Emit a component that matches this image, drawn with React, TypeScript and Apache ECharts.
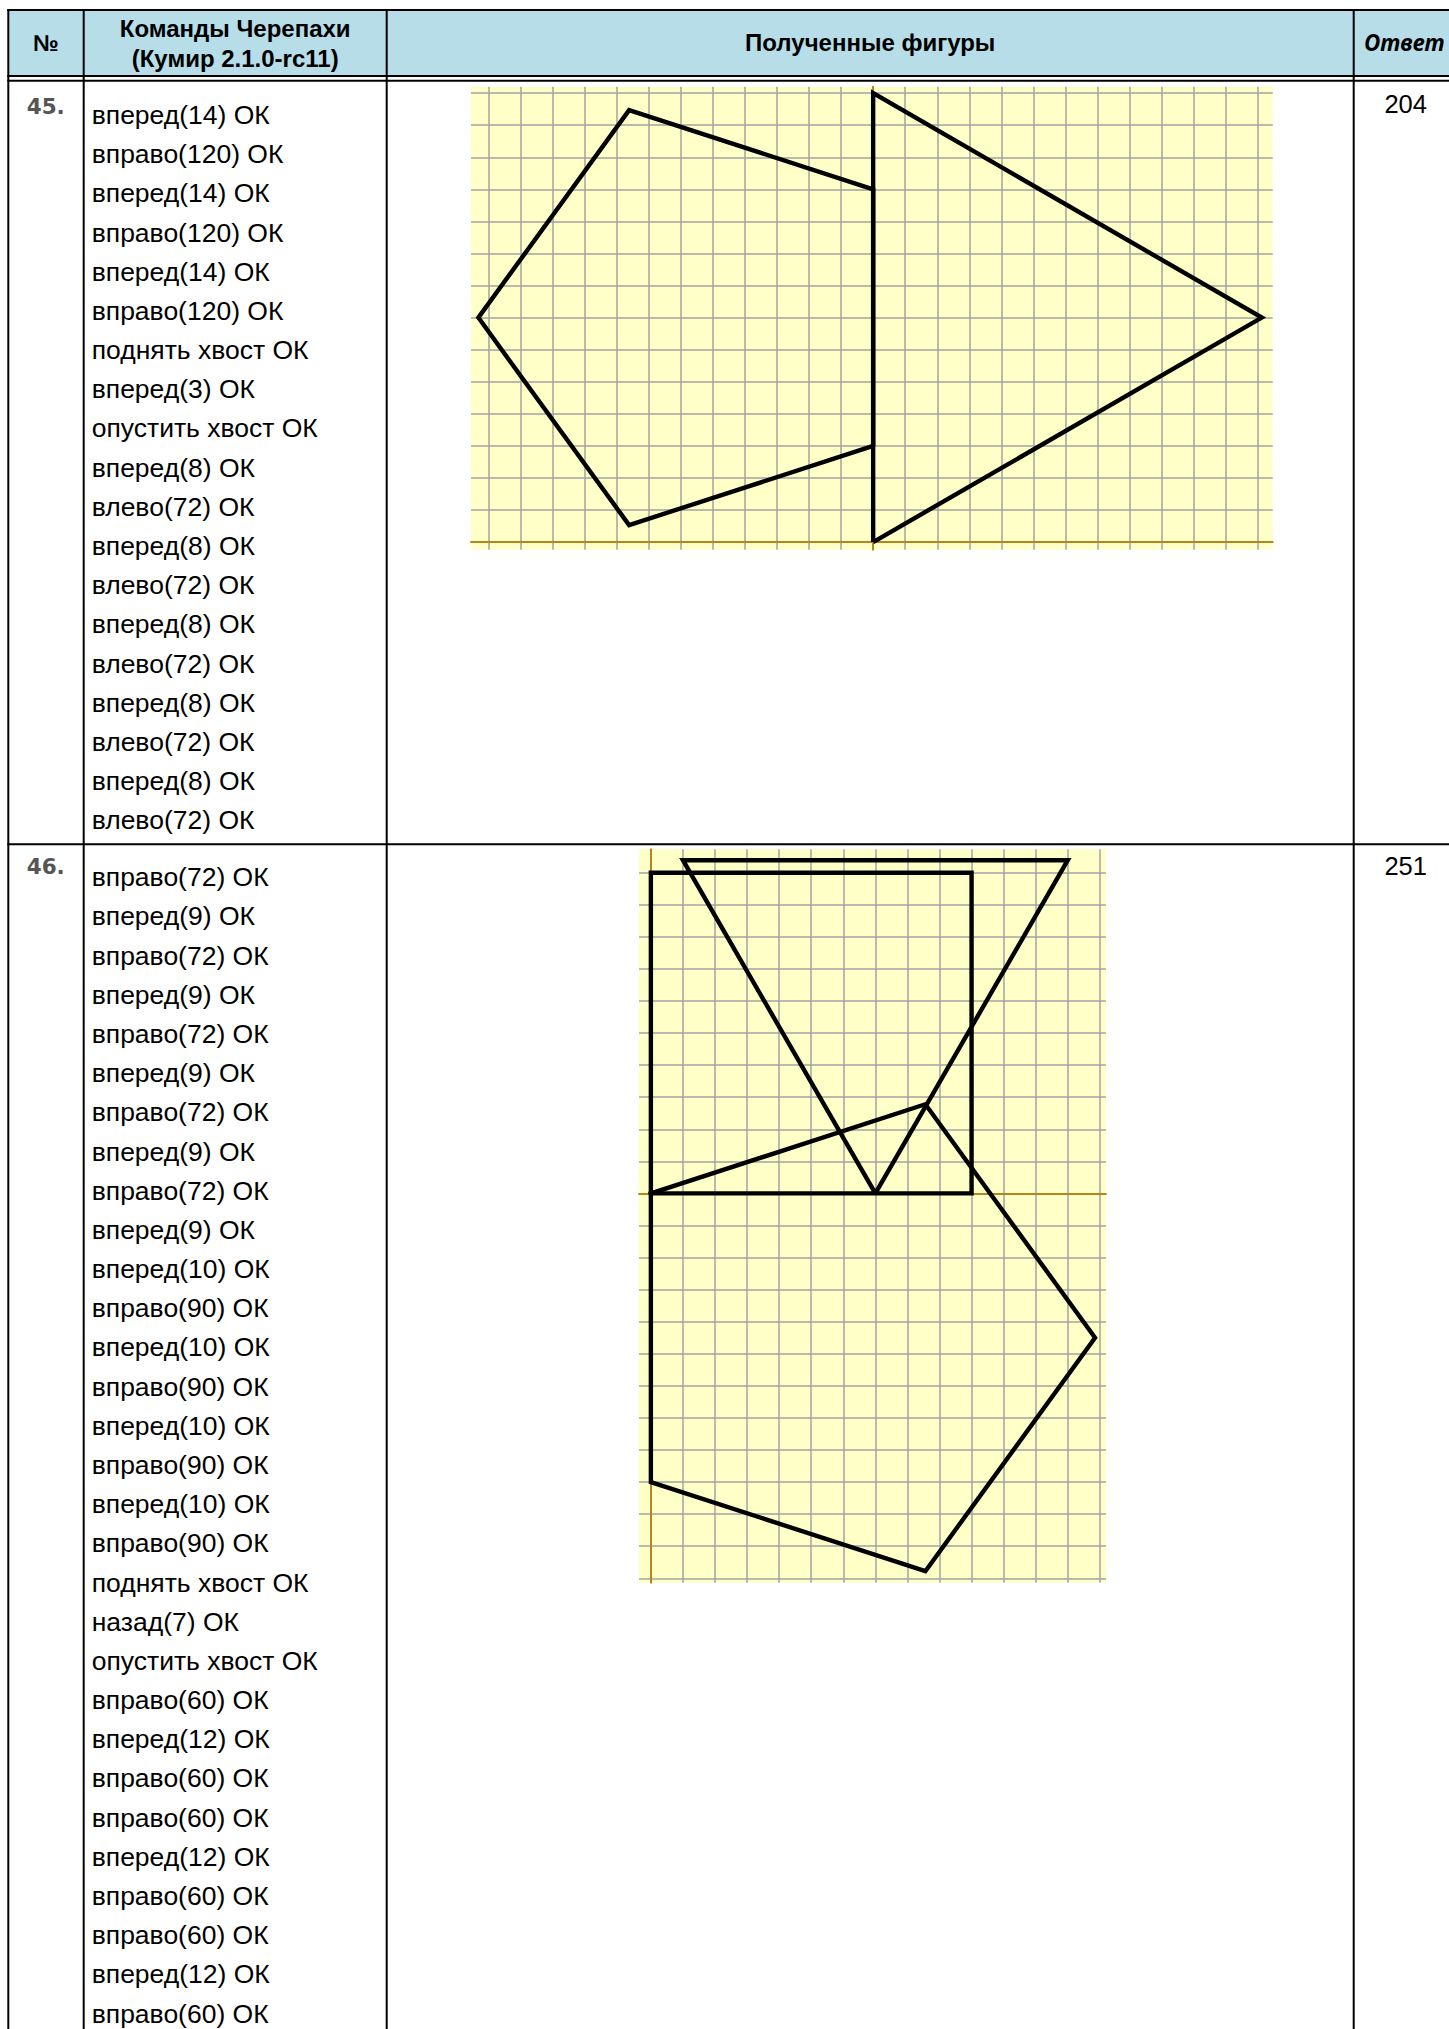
import React, { useEffect, useRef } from 'react';
import * as echarts from 'echarts';

// ---------- table texts ----------
const headerNo = '№';
const headerCommands = ['Команды Черепахи', '(Кумир 2.1.0-rc11)'];
const headerFigures = 'Полученные фигуры';
const headerAnswer = 'Ответ';

const taskNumbers = ['45.', '46.'];
const answers = ['204', '251'];

const commands45 = [
  'вперед(14) ОК', 'вправо(120) ОК', 'вперед(14) ОК', 'вправо(120) ОК',
  'вперед(14) ОК', 'вправо(120) ОК', 'поднять хвост ОК', 'вперед(3) ОК',
  'опустить хвост ОК', 'вперед(8) ОК', 'влево(72) ОК', 'вперед(8) ОК',
  'влево(72) ОК', 'вперед(8) ОК', 'влево(72) ОК', 'вперед(8) ОК',
  'влево(72) ОК', 'вперед(8) ОК', 'влево(72) ОК',
];

const commands46 = [
  'вправо(72) ОК', 'вперед(9) ОК', 'вправо(72) ОК', 'вперед(9) ОК',
  'вправо(72) ОК', 'вперед(9) ОК', 'вправо(72) ОК', 'вперед(9) ОК',
  'вправо(72) ОК', 'вперед(9) ОК', 'вперед(10) ОК', 'вправо(90) ОК',
  'вперед(10) ОК', 'вправо(90) ОК', 'вперед(10) ОК', 'вправо(90) ОК',
  'вперед(10) ОК', 'вправо(90) ОК', 'поднять хвост ОК', 'назад(7) ОК',
  'опустить хвост ОК', 'вправо(60) ОК', 'вперед(12) ОК', 'вправо(60) ОК',
  'вправо(60) ОК', 'вперед(12) ОК', 'вправо(60) ОК', 'вправо(60) ОК',
  'вперед(12) ОК', 'вправо(60) ОК',
];

// ---------- figure data (turtle units) ----------
const fig45Triangle = [[0, 0], [0, 14], [12.12, 7], [0, 0]];
const fig45Pentagon = [[0, 3], [0, 11], [-7.61, 13.47], [-12.31, 7], [-7.61, 0.53], [0, 3]];
const fig45XRange = [-12.54, 12.46];
const fig45YRange = [-0.24, 14.2];

const fig46Pentagon = [[0, 0], [8.56, 2.78], [13.85, -4.5], [8.56, -11.78], [0, -9], [0, 0]];
const fig46Square = [[0, 0], [0, 10], [10, 10], [10, 0], [0, 0]];
const fig46Triangle = [[7, 0], [13, 10.39], [1, 10.39], [7, 0]];
const fig46XRange = [-0.37, 14.19];
const fig46YRange = [-12.14, 10.73];

// ---------- layout / style ----------
const UNIT = 32.07;
const FIG45_POS = { left: 471, top: 86.7 };
const FIG46_POS = { left: 639, top: 849.3 };

const COL_X = [8.3, 83.7, 386.7, 1353.7];
const TABLE_RIGHT = 1470;
const TOP_Y = 10;
const HEADER_LINES_Y = [76, 80.7];
const ROW46_Y = 844.3;

const SANS = '"Liberation Sans", Arial, sans-serif';
const YELLOW = '#ffffc8';
const GRID_GRAY = '#a3a3a3';
const AXIS_BROWN = '#b5861e';
const HEADER_BLUE = '#b6dde8';

const TEXT_X = 91.7;
const LINE_STEP = 39.18;
const ROW45_FIRST = 115;
const ROW46_FIRST = 877.3;

function makeAxes(gridIndex: number, range: number[]) {
  const span = range[1] - range[0];
  const base = {
    type: 'value',
    gridIndex,
    min: range[0],
    max: range[1],
    splitNumber: Math.round(span),
    minInterval: 1,
    maxInterval: 1,
    axisTick: { show: false },
    axisLabel: { show: false },
  };
  const gridLines = {
    ...base,
    z: 0,
    axisLine: { show: false, onZero: false },
    splitLine: {
      show: true,
      showMinLine: false,
      showMaxLine: false,
      lineStyle: { color: GRID_GRAY, width: 1.5 },
    },
  };
  const axisLine = {
    ...base,
    z: 1,
    axisLine: { show: true, onZero: true, lineStyle: { color: AXIS_BROWN, width: 2 } },
    splitLine: { show: false },
  };
  return [gridLines, axisLine];
}

function shape(data: number[][], axisIndex: number, cap: string) {
  return {
    type: 'line',
    xAxisIndex: axisIndex,
    yAxisIndex: axisIndex,
    data,
    symbol: 'none',
    showSymbol: false,
    silent: true,
    clip: false,
    z: 5,
    lineStyle: { color: '#000', width: 4.4, join: 'miter', cap },
  };
}

function txt(text: string, x: number, y: number, opts: any = {}) {
  return {
    type: 'text',
    x,
    y,
    silent: true,
    style: {
      text,
      fill: opts.fill || '#000',
      fontSize: opts.size || 25,
      fontFamily: opts.family || SANS,
      fontWeight: opts.weight || 'normal',
      fontStyle: opts.style || 'normal',
      align: opts.align || 'left',
      textAlign: opts.align || 'left',
      verticalAlign: 'middle',
      textVerticalAlign: 'middle',
    },
  };
}

function hLine(y: number, x1: number, x2: number, w = 2) {
  return { type: 'line', silent: true, shape: { x1, y1: y, x2, y2: y }, style: { stroke: '#000', lineWidth: w } };
}
function vLine(x: number, y1: number, y2: number, w = 2) {
  return { type: 'line', silent: true, shape: { x1: x, y1, x2: x, y2 }, style: { stroke: '#000', lineWidth: w } };
}

export default function App() {
  const ref = useRef<HTMLDivElement>(null);

  useEffect(() => {
    if (!ref.current) return;
    const chart = echarts.init(ref.current, undefined, { renderer: 'svg' });

    const grid45 = {
      left: FIG45_POS.left,
      top: FIG45_POS.top,
      width: (fig45XRange[1] - fig45XRange[0]) * UNIT,
      height: (fig45YRange[1] - fig45YRange[0]) * UNIT,
      show: true,
      backgroundColor: YELLOW,
      borderWidth: 0,
      containLabel: false,
      outerBoundsMode: 'none',
    };
    const grid46 = {
      left: FIG46_POS.left,
      top: FIG46_POS.top,
      width: (fig46XRange[1] - fig46XRange[0]) * UNIT,
      height: (fig46YRange[1] - fig46YRange[0]) * UNIT,
      show: true,
      backgroundColor: YELLOW,
      borderWidth: 0,
      containLabel: false,
      outerBoundsMode: 'none',
    };

    const xAxis = [...makeAxes(0, fig45XRange), ...makeAxes(1, fig46XRange)];
    const yAxis = [...makeAxes(0, fig45YRange), ...makeAxes(1, fig46YRange)];

    const elements: any[] = [];
    // header background
    elements.push({
      type: 'rect',
      silent: true,
      shape: { x: COL_X[0], y: TOP_Y, width: TABLE_RIGHT - COL_X[0], height: HEADER_LINES_Y[0] - TOP_Y },
      style: { fill: HEADER_BLUE },
    });
    // borders
    elements.push(hLine(TOP_Y, COL_X[0] - 1, TABLE_RIGHT, 2.2));
    elements.push(hLine(HEADER_LINES_Y[0], COL_X[0] - 1, TABLE_RIGHT, 2));
    elements.push(hLine(HEADER_LINES_Y[1], COL_X[0] - 1, TABLE_RIGHT, 2));
    elements.push(hLine(ROW46_Y, COL_X[0] - 1, TABLE_RIGHT, 2));
    COL_X.forEach((x) => elements.push(vLine(x, TOP_Y - 1, 2040, 2)));

    // header texts
    const headerFont = { weight: 'bold', size: 24 };
    elements.push(txt(headerNo, (COL_X[0] + COL_X[1]) / 2, 43, { ...headerFont, size: 23, align: 'center' }));
    elements.push(txt(headerCommands[0], (COL_X[1] + COL_X[2]) / 2, 28.5, { ...headerFont, align: 'center' }));
    elements.push(txt(headerCommands[1], (COL_X[1] + COL_X[2]) / 2, 58.5, { ...headerFont, align: 'center' }));
    elements.push(txt(headerFigures, (COL_X[2] + COL_X[3]) / 2, 42.5, { ...headerFont, align: 'center' }));
    elements.push(txt(headerAnswer, 1364, 42.5, { ...headerFont, size: 22.5, style: 'italic', family: '"Noto Sans", ' + SANS }));

    // row numbers
    const numFont = { weight: 'bold', size: 21.5, family: '"DejaVu Sans", sans-serif', fill: '#555555' };
    elements.push(txt(taskNumbers[0], 26.7, 106.3, numFont));
    elements.push(txt(taskNumbers[1], 26.7, 866.7, numFont));

    // answers
    elements.push(txt(answers[0], 1405.7, 104, { align: 'center', size: 25.5 }));
    elements.push(txt(answers[1], 1405.7, 865.5, { align: 'center', size: 25.5 }));

    // commands
    const cmdFont = { size: 26.5 };
    commands45.forEach((c, i) => elements.push(txt(c, TEXT_X, ROW45_FIRST + i * LINE_STEP, cmdFont)));
    commands46.forEach((c, i) => elements.push(txt(c, TEXT_X, ROW46_FIRST + i * LINE_STEP, cmdFont)));

    chart.setOption({
      animation: false,
      backgroundColor: '#ffffff',
      grid: [grid45, grid46],
      xAxis,
      yAxis,
      series: [
        shape(fig45Triangle, 0, 'butt'),
        shape(fig45Pentagon, 0, 'butt'),
        shape(fig46Pentagon, 2, 'square'),
        shape(fig46Square, 2, 'square'),
        shape(fig46Triangle, 2, 'butt'),
      ],
      graphic: { elements },
    } as any);

    return () => chart.dispose();
  }, []);

  return (
    <div
      ref={ref}
      style={{ position: 'absolute', left: 0, top: 0, width: 1449, height: 2029, overflow: 'hidden' }}
    />
  );
}
